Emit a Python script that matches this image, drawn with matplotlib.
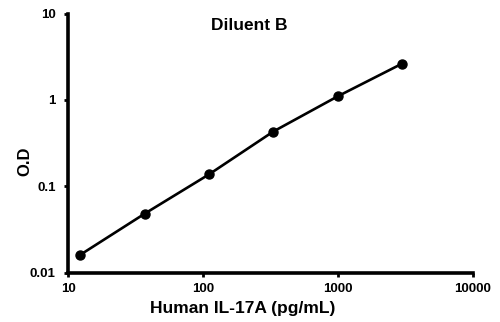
import matplotlib
matplotlib.use("Agg")
import matplotlib.pyplot as plt
from matplotlib.ticker import FixedLocator, FixedFormatter, NullLocator

conc = [12.3, 37, 111, 333, 1000, 3000]
od = [0.016, 0.048, 0.137, 0.43, 1.10, 2.63]
xticks = [10, 100, 1000, 10000]
xticklabels = ["10", "100", "1000", "10000"]
yticks = [0.01, 0.1, 1, 10]
yticklabels = ["0.01", "0.1", "1", "10"]

plt.rcParams['font.family'] = ['Liberation Sans', 'DejaVu Sans']

fig = plt.figure(figsize=(5, 3.22), dpi=100)
ax = fig.add_axes([0.136, 0.1537, 0.809, 0.804])
ax.plot(conc, od, color='black', lw=1.9, marker='o', ms=6.5, clip_on=False)
ax.set_xscale('log')
ax.set_yscale('log')
ax.set_xlim(10, 10000)
ax.set_ylim(0.01, 10)
ax.xaxis.set_major_locator(FixedLocator(xticks))
ax.xaxis.set_major_formatter(FixedFormatter(xticklabels))
ax.yaxis.set_major_locator(FixedLocator(yticks))
ax.yaxis.set_major_formatter(FixedFormatter(yticklabels))
ax.xaxis.set_minor_locator(NullLocator())
ax.yaxis.set_minor_locator(NullLocator())
for s in ['top', 'right']:
    ax.spines[s].set_visible(False)
for s in ['left', 'bottom']:
    ax.spines[s].set_linewidth(2.6)
ax.tick_params(axis='x', which='major', direction='out', length=3, width=2, labelsize=9.5, pad=4.5)
ax.tick_params(axis='y', which='major', direction='out', length=3, width=2, labelsize=9.5, pad=6)
for lab in ax.get_xticklabels() + ax.get_yticklabels():
    lab.set_fontweight('bold')
ax.set_xlabel('Human IL-17A (pg/mL)', fontsize=12.5, fontweight='bold')
ax.xaxis.set_label_coords(0.432, -0.11)
ax.set_ylabel('O.D', fontsize=12, fontweight='bold')
ax.yaxis.set_label_coords(-0.088, 0.43)
ax.text(0.448, 0.985, 'Diluent B', transform=ax.transAxes, ha='center', va='top', fontsize=12.5, fontweight='bold')
fig.savefig('out.png', dpi=100)
